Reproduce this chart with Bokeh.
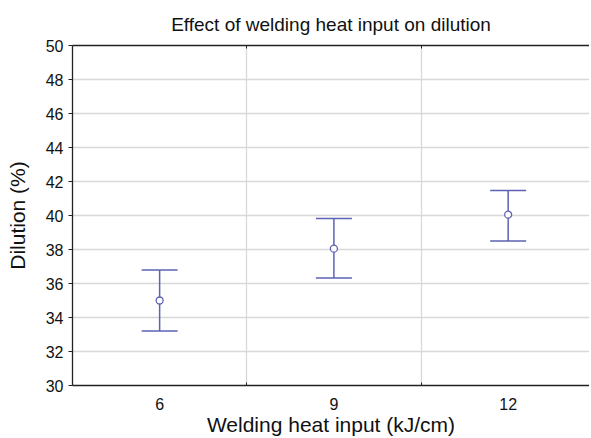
from bokeh.plotting import figure
from bokeh.models import FixedTicker, Range1d, Whisker, TeeHead, ColumnDataSource, LinearAxis
from bokeh.embed import file_html
from bokeh.resources import INLINE

heat_input = [6, 9, 12]
dilution_mean = [35.0, 38.05, 40.05]
dilution_lower = [33.2, 36.33, 38.5]
dilution_upper = [36.8, 39.82, 41.47]
y_ticks = [30, 32, 34, 36, 38, 40, 42, 44, 46, 48, 50]
x_bounds = [7.5, 10.5]

FONT = "Liberation Sans"
BLUE = "#5d62b4"

p = figure(width=589, height=438, output_backend="svg", toolbar_location=None,
           x_range=Range1d(4.5, 13.4), y_range=Range1d(30, 50),
           title="Effect of welding heat input on dilution",
           min_border_left=72, min_border_right=0, min_border_top=45, min_border_bottom=53)
p.outline_line_color = None
p.background_fill_color = "white"
p.border_fill_color = "white"

p.title.text_font = FONT
p.title.text_font_size = "19px"
p.title.text_font_style = "normal"
p.title.align = "center"
p.title.text_color = "#111111"
p.title.standoff = 21

src = ColumnDataSource(dict(x=heat_input, m=dilution_mean, lo=dilution_lower, hi=dilution_upper))
w = Whisker(source=src, base="x", lower="lo", upper="hi", line_color=BLUE, line_width=1.5,
            upper_head=TeeHead(size=36, line_color=BLUE, line_width=1.5),
            lower_head=TeeHead(size=36, line_color=BLUE, line_width=1.5))
p.add_layout(w)
p.scatter("x", "m", source=src, marker="circle", size=7, fill_color="white",
          line_color=BLUE, line_width=1.3)

# axes
p.xaxis.ticker = FixedTicker(ticks=heat_input, minor_ticks=x_bounds)
p.xgrid.ticker = FixedTicker(ticks=x_bounds)
p.yaxis.ticker = FixedTicker(ticks=y_ticks)
for ax in (p.xaxis[0], p.yaxis[0]):
    ax.axis_line_color = "#222222"
    ax.axis_line_width = 1.3
    ax.major_label_text_font = FONT
    ax.major_label_text_font_size = "16px"
    ax.major_label_text_color = "#111111"
    ax.axis_label_text_font = FONT
    ax.axis_label_text_font_style = "normal"
    ax.axis_label_text_color = "#111111"
    ax.major_tick_line_color = "#222222"

p.xaxis.axis_label = "Welding heat input (kJ/cm)"
p.xaxis.axis_label_text_font_size = "21px"
p.xaxis.major_tick_line_color = None
p.xaxis.minor_tick_line_color = "#222222"
p.xaxis.minor_tick_in = 3
p.xaxis.minor_tick_out = 0
p.xaxis.major_label_standoff = 6
p.xaxis.axis_label_standoff = 0

p.yaxis.axis_label = "Dilution (%)"
p.yaxis.axis_label_text_font_size = "21px"
p.yaxis.major_tick_in = 0
p.yaxis.major_tick_out = 4
p.yaxis.minor_tick_line_color = None
p.yaxis.major_label_standoff = 5
p.yaxis.axis_label_standoff = 14

top = LinearAxis(ticker=FixedTicker(ticks=[], minor_ticks=x_bounds), major_label_text_font_size="0px",
                 axis_line_color="#222222", axis_line_width=1.3, minor_tick_in=3, minor_tick_out=0,
                 minor_tick_line_color="#222222", major_tick_line_color=None)
p.add_layout(top, "above")

p.xgrid.grid_line_color = "#d8d8d8"
p.xgrid.grid_line_width = 1.3
p.ygrid.grid_line_color = "#d8d8d8"
p.ygrid.grid_line_width = 1.3

open("out.html", "w").write(file_html(p, INLINE))
